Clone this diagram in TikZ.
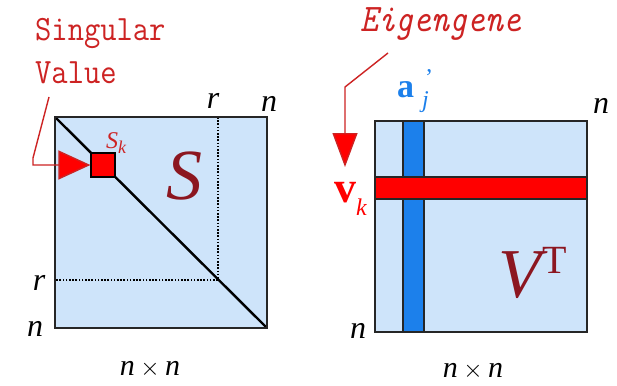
\documentclass[tikz,border=0pt]{standalone}
\usepackage{fontspec}
\setmainfont{Liberation Serif}
\usetikzlibrary{arrows.meta}
\definecolor{txtred}{RGB}{205,35,35}
\definecolor{darkred}{RGB}{140,22,32}
\definecolor{boxblue}{RGB}{206,228,250}
\definecolor{colblue}{RGB}{28,128,235}
\tikzset{
  boxline/.style={draw=black!85, line width=2pt},
  dotline/.style={draw=black, line width=1.8pt, dash pattern=on 1.6pt off 1.6pt},
  diagline/.style={draw=black, line width=2.4pt},
  barline/.style={draw=black!85, line width=1.6pt},
  redarrow/.style={draw=txtred, line width=1.4pt},
  lbl/.style={inner sep=0pt, font=\fontsize{32}{32}\selectfont\itshape},
  redtxt/.style={inner sep=0pt, text=txtred, font=\fontsize{31}{31}\selectfont\ttfamily},
}
\begin{document}
\begin{tikzpicture}[x=1pt,y=-1pt]
\useasboundingbox (0,0) rectangle (617,385);
\fill[white] (0,0) rectangle (617,385);

% ---------- left matrix S ----------
\fill[boxblue] (55,117) rectangle (267,328);
\draw[dotline] (218,117) -- (218,280) -- (55,280);
\draw[diagline] (55,117) -- (267,328);
\draw[boxline] (55,117) rectangle (267,328);
\node[draw=black, line width=1.2pt, fill=red, minimum size=24pt, inner sep=0pt] (sk) at (103,165) {};

\node[redtxt, anchor=base west] (sing) at (35,41) {\scalebox{1.02}[1.15]{Singular}};
\node[redtxt, anchor=base west] (val) at (35,84) {\scalebox{1.02}[1.15]{Value}};
\coordinate (sv1) at (49,97);
\coordinate (sv2) at (33,158);
\draw[redarrow, -{Triangle[length=32pt,width=29pt,fill=red]}] (sv1) -- (sv2) |- (sk.west);

\node[inner sep=0pt, anchor=base west, text=txtred] (sklbl) at (106,148)
  {\fontsize{24}{24}\selectfont\textit{S}\raisebox{-5pt}{\fontsize{18}{18}\selectfont\textit{k}}};
\node[inner sep=0pt, text=darkred, font=\fontsize{72}{72}\selectfont\itshape] (bigS) at (184,176) {S};

\node[lbl] (rtop) at (213,101) {r};
\node[lbl] (ntopL) at (269,104) {n};
\node[lbl] (rleft) at (39,283) {r};
\node[lbl] (nleftL) at (35,329) {n};
\node[inner sep=0pt, font=\fontsize{30}{30}\selectfont] (dimL) at (150,369) {$\mathit{n}\times\mathit{n}$};

% ---------- right matrix V^T ----------
\fill[boxblue] (375,121) rectangle (587,332);
\draw[barline, fill=colblue] (403,121) rectangle (424,332);
\draw[barline, fill=red] (375,177) rectangle (587,199);
\draw[boxline] (375,121) rectangle (587,332);

\node[inner sep=0pt, anchor=base west, text=txtred, font=\fontsize{34}{34}\selectfont\ttfamily\itshape] (eig) at (360,32) {\scalebox{1}[1.15]{Eigengene}};
\coordinate (eg1) at (388,53);
\coordinate (eg2) at (345,87);
\coordinate (eg3) at (345,167);
\draw[redarrow, -{Triangle[length=34pt,width=25pt,fill=red]}] (eg1) -- (eg2) -- (eg3);

\node[inner sep=0pt, anchor=base west, text=red] (vk) at (334,202)
  {\fontsize{44}{44}\selectfont\textbf{v}\raisebox{-13pt}{\fontsize{24}{24}\selectfont\textit{k}}};
\node[inner sep=0pt, anchor=base west, text=colblue] (aj) at (397,97)
  {\fontsize{34}{34}\selectfont\textbf{a}\fontsize{24}{24}\selectfont\rlap{\hspace{11pt}\raisebox{12pt}{'}}\hspace{8pt}\raisebox{-10pt}{\textit{j}}};

\node[inner sep=0pt, anchor=base west, text=darkred] (VT) at (498,297)
  {\fontsize{70}{70}\selectfont\textit{V}\hspace{-5pt}\raisebox{24pt}{\fontsize{40}{40}\selectfont T}};

\node[lbl] (ntopR) at (601,106) {n};
\node[lbl] (nleftR) at (358,331) {n};
\node[inner sep=0pt, font=\fontsize{30}{30}\selectfont] (dimR) at (473,371) {$\mathit{n}\times\mathit{n}$};
\end{tikzpicture}
\end{document}
